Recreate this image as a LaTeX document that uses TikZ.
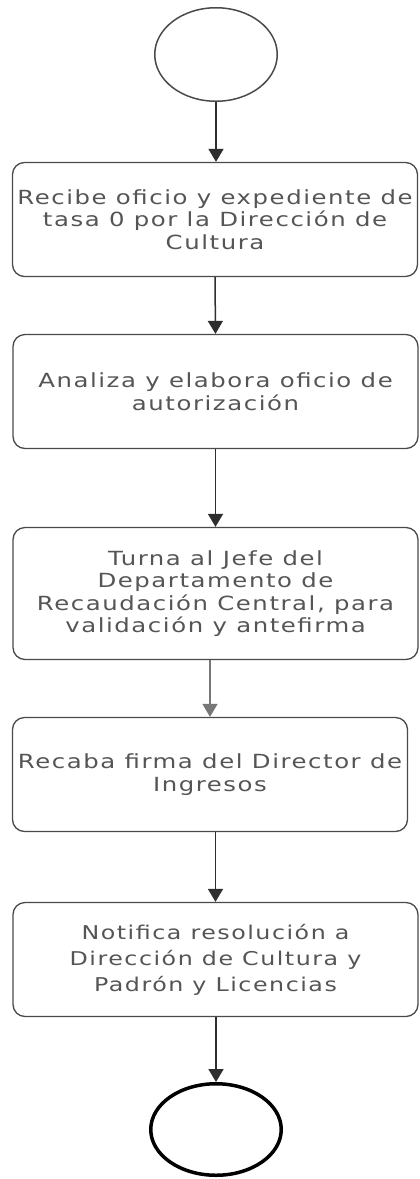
\documentclass[tikz,border=0pt]{standalone}
\usepackage{fontspec}
\newfontfamily\boxfont[FakeStretch=1.25,LetterSpace=8]{DejaVu Sans}
\usetikzlibrary{shapes.geometric,arrows.meta}
\definecolor{boxgray}{HTML}{4A4A4A}
\definecolor{txtgray}{HTML}{555555}
\definecolor{arrowdark}{HTML}{2E2E2E}
\definecolor{arrowlight}{HTML}{777777}
\begin{document}
\begin{tikzpicture}[x=1pt,y=-1pt,
  stepbox/.style={draw=boxgray,line width=1.3pt,rounded corners=12pt,
    minimum width=405pt,minimum height=114pt,inner sep=0pt,align=center,
    text=txtgray,font=\boxfont\fontsize{19.5}{22.5}\selectfont},
  startnode/.style={ellipse,draw=boxgray,line width=1.5pt,minimum width=122.5pt,minimum height=93.5pt,inner sep=0pt},
  endnode/.style={ellipse,draw=black,line width=3.5pt,minimum width=130.5pt,minimum height=91.5pt,inner sep=0pt},
  conn/.style={draw=arrowdark,line width=1.5pt,-{Triangle[width=15pt,length=13pt]}},
  connlight/.style={conn,draw=arrowlight}]
\useasboundingbox[fill=white] (0,0) rectangle (420,1179);
\node[startnode] (start) at (216,54.5) {};
\node[stepbox] (b1) at (215,219.5) {Recibe oficio y expediente de\\tasa 0 por la Dirección de\\Cultura};
\node[stepbox] (b2) at (215.5,391.5) {Analiza y elabora oficio de\\autorización};
\node[stepbox,minimum height=132pt] (b3) at (215.5,593.5) {Turna al Jefe del\\Departamento de\\Recaudación Central, para\\validación y antefirma};
\node[stepbox,minimum width=395pt] (b4) at (210,774.5) {Recaba firma del Director de\\Ingresos};
\node[stepbox,font=\boxfont\fontsize{19}{26}\selectfont] (b5) at (215.5,959.5) {Notifica resolución a\\Dirección de Cultura y\\Padrón y Licencias};
\node[endnode] (end) at (216,1129.5) {};
\draw[conn] (start.south) -- (start.south |- b1.north);
\draw[conn] (b1.south) -- (b2.north);
\draw[conn] (b2.south) -- (b3.north);
\draw[connlight] (b3.south -| b4.north) -- (b4.north);
\draw[conn] (b4.south -| b5.north) -- (b5.north);
\draw[conn] (b5.south -| end.north) -- (end.north);
\end{tikzpicture}
\end{document}
